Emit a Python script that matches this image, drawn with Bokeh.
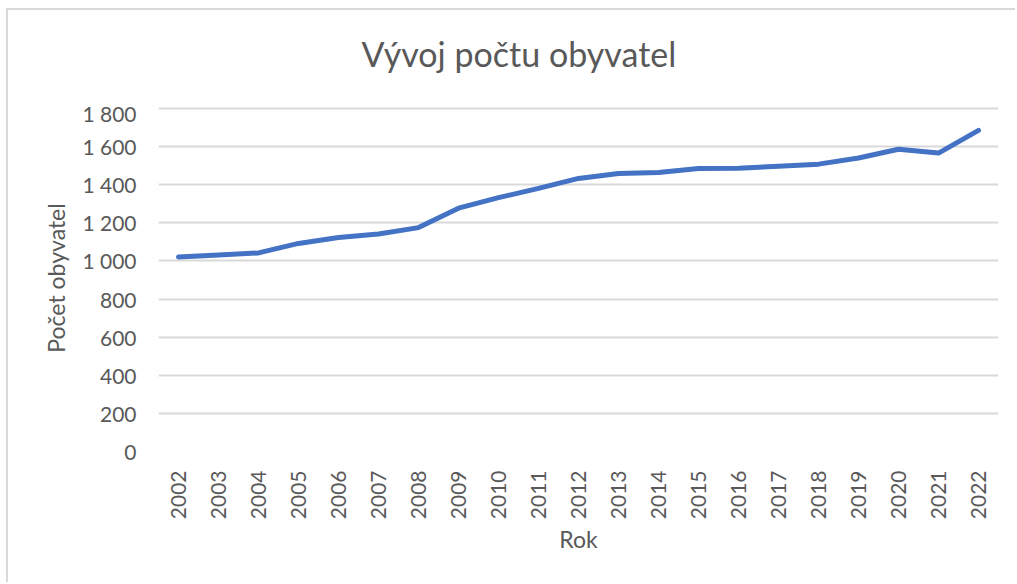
from bokeh.plotting import figure
from bokeh.models import Range1d, FactorRange, FixedTicker, Label
from bokeh.layouts import column
from bokeh.embed import file_html
from bokeh.resources import INLINE
import math

years = [str(y) for y in range(2002, 2023)]
population = [1021, 1031, 1042, 1092, 1123, 1141, 1175, 1277, 1332, 1381, 1433,
              1459, 1464, 1485, 1487, 1497, 1508, 1540, 1586, 1566, 1685]
y_ticks = [0, 200, 400, 600, 800, 1000, 1200, 1400, 1600, 1800]
y_tick_labels = ["0", "200", "400", "600", "800", "1 000", "1 200", "1 400", "1 600", "1 800"]

title_text = "Vývoj počtu obyvatel"
x_label = "Rok"
y_label = "Počet obyvatel"

FONT = "Lato"
TXT = "#595959"
GRID = "#d9d9d9"

# --- title strip (the chart title is centred on the whole chart area) ---
t = figure(x_range=Range1d(0, 1), y_range=Range1d(0, 1), width=1009, height=90,
           output_backend="svg", toolbar_location=None,
           x_axis_location=None, y_axis_location=None,
           min_border_left=0, min_border_right=0, min_border_top=0, min_border_bottom=0)
t.outline_line_color = None
t.xgrid.grid_line_color = None
t.ygrid.grid_line_color = None
t.add_layout(Label(x=0.429, y=0.522, text=title_text, text_align="center",
                   text_baseline="middle", text_font=FONT, text_font_size="34px",
                   text_color=TXT))

# --- main chart ---
p = figure(x_range=FactorRange(*years, range_padding=0), y_range=Range1d(0, 1821),
           width=1009, height=484, output_backend="svg", toolbar_location=None,
           min_border_left=150, min_border_right=19, min_border_top=4, min_border_bottom=133)

p.line(years, population, line_color="#4472C4", line_width=5, line_cap="round", line_join="round")

p.outline_line_color = None

p.yaxis.ticker = FixedTicker(ticks=y_ticks)
p.yaxis.major_label_overrides = {tk: lb for tk, lb in zip(y_ticks, y_tick_labels)}
p.yaxis.axis_line_color = None
p.yaxis.major_tick_line_color = None
p.yaxis.minor_tick_line_color = None
p.yaxis.major_label_standoff = 16
p.yaxis.axis_label = y_label
p.yaxis.axis_label_standoff = 9

p.xaxis.axis_line_color = None
p.xaxis.major_tick_line_color = None
p.xaxis.minor_tick_line_color = None
p.xaxis.major_label_orientation = math.pi / 2
p.xaxis.major_label_standoff = 13
p.xaxis.axis_label = x_label
p.xaxis.axis_label_standoff = 3

for ax in (p.xaxis[0], p.yaxis[0]):
    ax.major_label_text_font = FONT
    ax.major_label_text_font_size = "21px"
    ax.major_label_text_color = TXT
    ax.axis_label_text_font = FONT
    ax.axis_label_text_font_size = "23px"
    ax.axis_label_text_font_style = "normal"
    ax.axis_label_text_color = TXT

p.xgrid.grid_line_color = None
p.ygrid.grid_line_color = GRID
p.ygrid.grid_line_width = 2

layout = column(t, p, spacing=0)
layout.styles = {"margin-left": "8px", "margin-top": "10px",
                 "box-shadow": "-2px -2px 0 0 #d9d9d9"}

open("out.html", "w").write(file_html(layout, INLINE))
